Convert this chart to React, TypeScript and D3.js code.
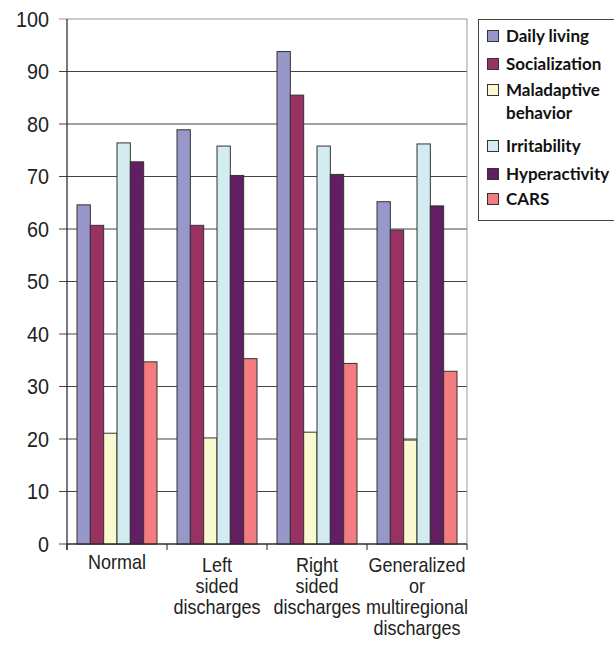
import React from "react";
import * as d3 from "d3";

const categories = [
  ["Normal"],
  ["Left", "sided", "discharges"],
  ["Right", "sided", "discharges"],
  ["Generalized", "or", "multiregional", "discharges"],
];
const seriesNames = ["Daily living", "Socialization", "Maladaptive behavior", "Irritability", "Hyperactivity", "CARS"];
const legendLines = [["Daily living"], ["Socialization"], ["Maladaptive", "behavior"], ["Irritability"], ["Hyperactivity"], ["CARS"]];
const seriesColors = ["#9797ca", "#993263", "#fbf9d0", "#d2ecf1", "#631e63", "#f27c7f"];
const dailyLiving = [64.6, 78.9, 93.8, 65.2];
const socialization = [60.7, 60.7, 85.5, 59.8];
const maladaptive = [21.1, 20.2, 21.3, 19.8];
const irritability = [76.4, 75.8, 75.8, 76.2];
const hyperactivity = [72.8, 70.2, 70.4, 64.4];
const cars = [34.7, 35.3, 34.4, 32.9];
const seriesValues = [dailyLiving, socialization, maladaptive, irritability, hyperactivity, cars];
const yTicks = [0, 10, 20, 30, 40, 50, 60, 70, 80, 90, 100];

const W = 614, H = 646;
const left = 67, right = 467, top = 19, bottom = 544;

export default function App() {
  const x0 = d3.scaleBand<number>().domain(d3.range(categories.length)).range([left, right]).paddingInner(0).paddingOuter(0);
  const x1 = d3.scaleBand<number>().domain(d3.range(seriesNames.length)).range([10, x0.bandwidth() - 10]).padding(0);
  const y = d3.scaleLinear().domain([0, 100]).range([bottom, top]);
  const sans = "'Liberation Sans', Arial, sans-serif";
  const legendFont = "Lato, 'Open Sans', sans-serif";
  const legendY = [36, 64, 90, 146, 174, 199];
  const sx = 0.9;

  return (
    <svg width={W} height={H} style={{ position: "absolute", left: 0, top: 0, background: "#fff" }}>
      {yTicks.map((t) => (
        <line key={"g" + t} x1={left - 8} x2={right} y1={y(t)} y2={y(t)}
          stroke={t === 100 ? "#999" : "#444"} strokeWidth={1} />
      ))}
      <line x1={right} x2={right} y1={top} y2={bottom} stroke="#999" strokeWidth={1} />
      {categories.map((_, ci) => (
        <g key={"c" + ci} transform={`translate(${x0(ci)},0)`}>
          {seriesValues.map((vals, si) => (
            <rect key={si} x={x1(si)} width={x1.bandwidth()} y={y(vals[ci])} height={y(0) - y(vals[ci])}
              fill={seriesColors[si]} stroke="#333" strokeWidth={1} />
          ))}
        </g>
      ))}
      <line x1={left} x2={left} y1={top} y2={bottom + 6} stroke="#222" strokeWidth={1.2} />
      <line x1={left} x2={right} y1={bottom} y2={bottom} stroke="#222" strokeWidth={1.2} />
      {d3.range(categories.length + 1).map((i) => {
        const xx = left + i * x0.bandwidth();
        return <line key={"xt" + i} x1={xx} x2={xx} y1={bottom} y2={bottom + 6} stroke="#222" strokeWidth={1} />;
      })}
      {yTicks.map((t) => (
        <g key={"yl" + t} transform={`translate(49,${y(t) + 7.5}) scale(0.92,1)`}>
          <text textAnchor="end" fontFamily={sans} fontSize={21.5} fill="#222">{t}</text>
        </g>
      ))}
      {categories.map((lines, ci) => {
        const cx = (x0(ci) as number) + x0.bandwidth() / 2;
        return (
          <g key={"xl" + ci} transform={`translate(${cx},0) scale(${sx},1)`}>
            <text textAnchor="middle" fontFamily={sans} fontSize={20} fill="#222">
              {lines.map((l, li) => (
                <tspan key={li} x={0} y={(ci === 0 ? 569 : 572) + li * 21}>{l}</tspan>
              ))}
            </text>
          </g>
        );
      })}
      <rect x={478.5} y={19.5} width={140} height={201} fill="#fff" stroke="#444" strokeWidth={1} />
      {legendLines.map((lines, i) => (
        <g key={"lg" + i}>
          <rect x={487.5} y={legendY[i] - 5.5} width={11} height={11} fill={seriesColors[i]} stroke="#333" strokeWidth={1} />
          <text fontFamily={legendFont} fontWeight={700} fontSize={17} fill="#111">
            {lines.map((l, li) => (
              <tspan key={li} x={506} y={legendY[i] + 6 + li * 23}>{l}</tspan>
            ))}
          </text>
        </g>
      ))}
    </svg>
  );
}
